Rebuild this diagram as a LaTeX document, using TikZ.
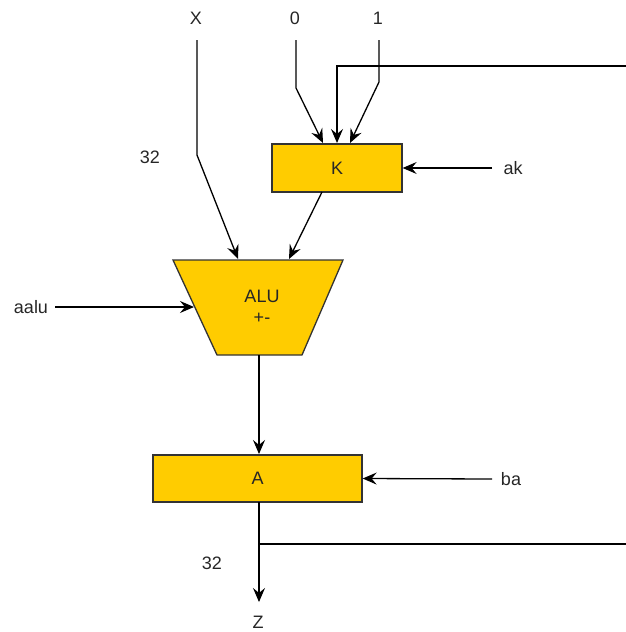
\documentclass[tikz,border=0pt]{standalone}
\usepackage{fontspec}
\setmainfont{Liberation Sans}
\usetikzlibrary{arrows.meta}
\definecolor{boxfill}{HTML}{FFCC00}
\begin{document}
\begin{tikzpicture}[x=1pt,y=-1pt,
  wire/.style={line width=1.3pt,black},
  arr/.style={wire,-{Stealth[length=14pt,width=12pt,inset=5pt]}},
  blk/.style={draw=black!80,line width=1.3pt,fill=boxfill,inner sep=0pt},
  lbl/.style={font=\fontsize{18}{20}\selectfont,inner sep=0pt,text=black!85}]
\useasboundingbox (0,0) rectangle (626,632);
% boxes
\node[blk,minimum width=130pt,minimum height=48pt,lbl] (K) at (337,168) {K};
\node[blk,minimum width=209pt,minimum height=47pt,lbl] (A) at (257.5,478.5) {A};
\draw[blk] (173,260) coordinate (alutl) -- (343,260) coordinate (alutr)
  -- (302,355) coordinate (alubr) -- (217,355) coordinate (alubl) -- cycle;
\node[lbl,align=center] (alut) at (262,296) {ALU};
\node[lbl] (alupm) at (262,318) {+-};
% labels
\node[lbl] (X) at (196,18) {X};
\node[lbl] (n0) at (295,18) {0};
\node[lbl] (n1) at (378,18) {1};
\node[lbl] (w1) at (150,157) {32};
\node[lbl] (w2) at (212,563) {32};
\node[lbl] (ak) at (513,168) {ak};
\node[lbl] (ba) at (511,479) {ba};
\node[lbl] (aalu) at (31,307) {aalu};
\node[lbl] (Z) at (258,622) {Z};
% coordinates
\coordinate (xs) at (197,40);
\coordinate (xb) at (197,155);
\coordinate (xe) at (238,259);
\coordinate (z0s) at (296,40);
\coordinate (z0b) at (296,88);
\coordinate (z0e) at (323,143);
\coordinate (o1s) at (379,40);
\coordinate (o1b) at (379,82);
\coordinate (o1e) at (350,143);
\coordinate (fbr) at (626,66);
\coordinate (fbc) at (337,66);
\coordinate (fbe) at (337,143);
\coordinate (kb) at (322,192);
\coordinate (ke) at (289,259);
\coordinate (ales) at (55,307);
\coordinate (alee) at (194,307);
\coordinate (aluout) at (259,355);
\coordinate (ain) at (259,454);
\coordinate (aout) at (259,502);
\coordinate (zend) at (259,602);
\coordinate (br) at (259,544);
\coordinate (brr) at (626,544);
% wires
\draw[arr] (xs) -- (xb) -- (xe);
\draw[arr] (z0s) -- (z0b) -- (z0e);
\draw[arr] (o1s) -- (o1b) -- (o1e);
\draw[arr] (fbr) -- (fbc) -- (fbe);
\draw[arr] (kb) -- (ke);
\draw[arr] (ales) -- (alee);
\draw[arr] (aluout) -- (ain);
\draw[arr] (aout) -- (zend);
\draw[wire] (br) -- (brr);
\draw[arr] (492,168) coordinate (aks) -- (K.east);
\draw[arr] (492,479) coordinate (bas) -- (A.east);
\end{tikzpicture}
\end{document}
